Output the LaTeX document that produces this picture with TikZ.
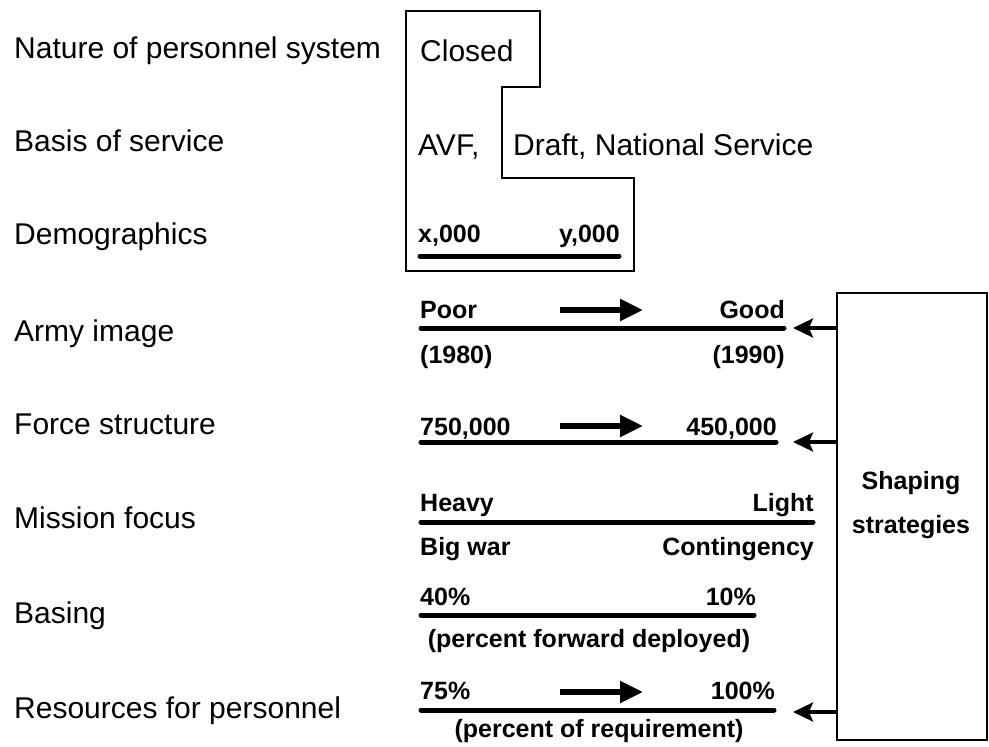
\documentclass[tikz,border=0pt]{standalone}
\usepackage{fontspec}
\setmainfont{Liberation Sans}
\usetikzlibrary{arrows.meta}
\begin{document}
\begin{tikzpicture}[x=1pt,y=-1pt,
  lab/.style={anchor=base west,inner sep=0pt,font=\fontsize{30}{34}\selectfont},
  inl/.style={anchor=base west,inner sep=0pt,font=\fontsize{30}{34}\selectfont},
  sml/.style={inner sep=0pt,font=\fontsize{25}{29}\selectfont\bfseries},
  bar/.style={line width=5pt,line cap=round},
  bigarrow/.style={line width=5.5pt,-{Triangle[length=23pt,width=21pt]}},
  dotbox/.style={line width=2.2pt},
  fb/.style={line width=3.5pt,-{Stealth[length=20pt,width=19pt,inset=4pt]}}
]
\useasboundingbox (0,0) rectangle (989,747);
% left labels
\node[lab] (l1) at (14,58) {Nature of personnel system};
\node[lab] (l2) at (14,151) {Basis of service};
\node[lab] (l3) at (14,244) {Demographics};
\node[lab] (l4) at (14,341) {Army image};
\node[lab] (l5) at (14,434) {Force structure};
\node[lab] (l6) at (14,528) {Mission focus};
\node[lab] (l7) at (14,623) {Basing};
\node[lab] (l8) at (14,718) {Resources for personnel};
% stepped box
\draw[dotbox] (406,11) -- (540,11) -- (540,87) -- (502,87) -- (502,178) -- (634,178) -- (634,271) -- (406,271) -- cycle;
\node[inl] (closed) at (420,61) {Closed};
\node[inl] (avf) at (418,155) {AVF,};
\node[inl] (draft) at (513,155) {Draft, National Service};
\node[sml,anchor=base west] (x0) at (418,242) {x,000};
\node[sml,anchor=base east] (y0) at (620,242) {y,000};
\coordinate (d1) at (420,256); \coordinate (d2) at (619,256);
\draw[bar] (d1) -- (d2);
% Army image
\node[sml,anchor=base west] (poor) at (420,318) {Poor};
\node[sml,anchor=base east] (good) at (785,318) {Good};
\coordinate (aa1) at (560,310); \coordinate (aa2) at (643,310);
\draw[bigarrow] (aa1) -- (aa2);
\coordinate (a1) at (421,328); \coordinate (a2) at (784,328);
\draw[bar] (a1) -- (a2);
\node[sml,anchor=base west] (y80) at (420,363) {(1980)};
\node[sml,anchor=base east] (y90) at (785,363) {(1990)};
% Force structure
\node[sml,anchor=base west] (f1) at (420,435) {750,000};
\node[sml,anchor=base east] (f2) at (777,435) {450,000};
\coordinate (fa1) at (560,426); \coordinate (fa2) at (643,426);
\draw[bigarrow] (fa1) -- (fa2);
\coordinate (b1) at (421,442); \coordinate (b2) at (776,442);
\draw[bar] (b1) -- (b2);
% Mission focus
\node[sml,anchor=base west] (heavy) at (420,511) {Heavy};
\node[sml,anchor=base east] (light) at (814,511) {Light};
\coordinate (m1) at (421,522); \coordinate (m2) at (813,522);
\draw[bar] (m1) -- (m2);
\node[sml,anchor=base west] (bigwar) at (420,555) {Big war};
\node[sml,anchor=base east] (cont) at (814,555) {Contingency};
% Basing
\node[sml,anchor=base west] (p40) at (420,605) {40\%};
\node[sml,anchor=base east] (p10) at (756,605) {10\%};
\coordinate (s1) at (421,615); \coordinate (s2) at (754,615);
\draw[bar] (s1) -- (s2);
\node[sml,anchor=base] (pfd) at (589,647) {(percent forward deployed)};
% Resources
\node[sml,anchor=base west] (p75) at (420,699) {75\%};
\node[sml,anchor=base east] (p100) at (775,699) {100\%};
\coordinate (ra1) at (560,692); \coordinate (ra2) at (643,692);
\draw[bigarrow] (ra1) -- (ra2);
\coordinate (r1) at (421,710); \coordinate (r2) at (774,710);
\draw[bar] (r1) -- (r2);
\node[sml,anchor=base] (por) at (599,737) {(percent of requirement)};
% Shaping strategies
\node[dotbox,draw,minimum width=150pt,minimum height=447pt,inner sep=0pt] (sh) at (912,516.5) {};
\node[sml,anchor=base] (sht1) at (911,489) {Shaping};
\node[sml,anchor=base] (sht2) at (911,533) {strategies};
\coordinate (ta) at (793,328);
\coordinate (tb) at (793,442);
\coordinate (tc) at (793,712);
\draw[fb] (sh.west |- ta) -- (ta);
\draw[fb] (sh.west |- tb) -- (tb);
\draw[fb] (sh.west |- tc) -- (tc);
\end{tikzpicture}
\end{document}
